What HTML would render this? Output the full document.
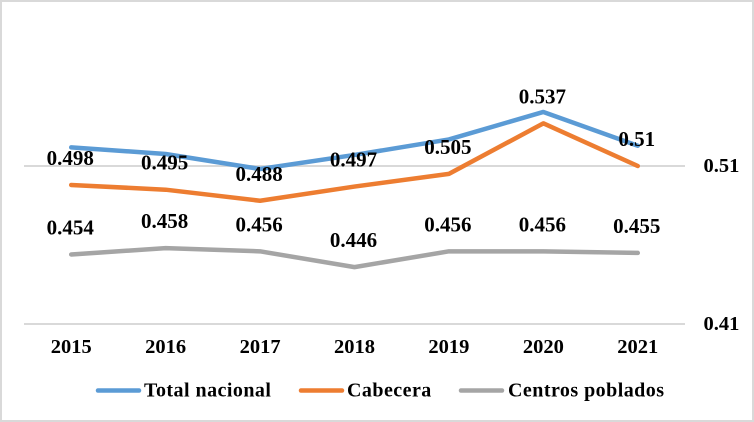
<!DOCTYPE html>
<html lang="es">
<head>
<meta charset="utf-8">
<title>Total nacional, Cabecera y Centros poblados 2015-2021</title>
<style>
html,body{margin:0;padding:0;background:#fff;}
body{width:754px;height:422px;overflow:hidden;}
svg{display:block;}
text{font-family:"Liberation Serif",serif;font-weight:bold;fill:#000;}
</style>
</head>
<body>
<svg id="chart" width="754" height="422" viewBox="0 0 754 422" xmlns="http://www.w3.org/2000/svg">
<rect x="1" y="1" width="752" height="420" fill="#fff" stroke="#d9d9d9" stroke-width="2"/>
</svg>
<script>
const categories = ['2015', '2016', '2017', '2018', '2019', '2020', '2021'];
const totalNacional = [0.5218, 0.5176, 0.5081, 0.517, 0.5268, 0.5442, 0.5228];
const cabecera = [0.498, 0.495, 0.488, 0.497, 0.505, 0.537, 0.51];
const centrosPoblados = [0.454, 0.458, 0.456, 0.446, 0.456, 0.456, 0.455];
const cabeceraLabels = ['0.498', '0.495', '0.488', '0.497', '0.505', '0.537', '0.51'];
const centrosLabels = ['0.454', '0.458', '0.456', '0.446', '0.456', '0.456', '0.455'];
const yTicks = [0.51, 0.41];
const yTickLabels = ['0.51', '0.41'];

const svg = document.getElementById('chart');
const NS = 'http://www.w3.org/2000/svg';
const plotLeft = 24, plotRight = 685;
const yA = 166, yB = 324, vA = 0.51, vB = 0.41;

function xScale(i) {
  return plotLeft + (plotRight - plotLeft) * (i + 0.5) / categories.length;
}
function yScale(v) {
  return yA + (v - vA) * (yB - yA) / (vB - vA);
}
function make(tag, attrs, text) {
  const el = document.createElementNS(NS, tag);
  for (const k in attrs) el.setAttribute(k, attrs[k]);
  if (text !== undefined) el.textContent = text;
  svg.appendChild(el);
  return el;
}

yTicks.forEach(function (t, i) {
  const grid = make('line', {x1: plotLeft, x2: plotRight, y1: yScale(t), y2: yScale(t), stroke: '#d9d9d9', 'stroke-width': 2});
  
  
  const lab = make('text', {x: 703.5, y: yScale(t) + 6, 'font-size': 20.5}, yTickLabels[i]);
  
  
});

categories.forEach(function (c, i) {
  const lab = make('text', {x: xScale(i), y: 353, 'font-size': 20.5, 'text-anchor': 'middle'}, c);
  
  
});

function drawLine(values, color, name) {
  const pts = values.map(function (v, i) { return xScale(i) + ',' + yScale(v); }).join(' ');
  const line = make('polyline', {points: pts, fill: 'none', stroke: color, 'stroke-width': 4.5, 'stroke-linecap': 'round', 'stroke-linejoin': 'round'});
  
  
}
drawLine(centrosPoblados, '#a5a5a5', 'series-centros-poblados');
drawLine(totalNacional, '#5b9bd5', 'series-total-nacional');
drawLine(cabecera, '#ed7d31', 'series-cabecera');

function drawLabels(values, labels, offset, name) {
  values.forEach(function (v, i) {
    const t = make('text', {x: xScale(i) - 1, y: yScale(v) + offset, 'font-size': 21, 'text-anchor': 'middle'}, labels[i]);
    
    
  });
}
drawLabels(cabecera, cabeceraLabels, -20, 'cabecera-value-label');
drawLabels(centrosPoblados, centrosLabels, -20, 'centros-value-label');

const legendNames = ['Total nacional', 'Cabecera', 'Centros poblados'];
const legendColors = ['#5b9bd5', '#ed7d31', '#a5a5a5'];
const legendLineX = [98, 301, 461];
const legendTextX = [144, 347, 508];
legendNames.forEach(function (n, i) {
  const sw = make('line', {x1: legendLineX[i], x2: legendLineX[i] + 41, y1: 390.5, y2: 390.5, stroke: legendColors[i], 'stroke-width': 4.5, 'stroke-linecap': 'round'});
  
  
  const t = make('text', {x: legendTextX[i], y: 396.5, 'font-size': 20, 'letter-spacing': 0.46}, n);
  
  
});
</script>
</body>
</html>
